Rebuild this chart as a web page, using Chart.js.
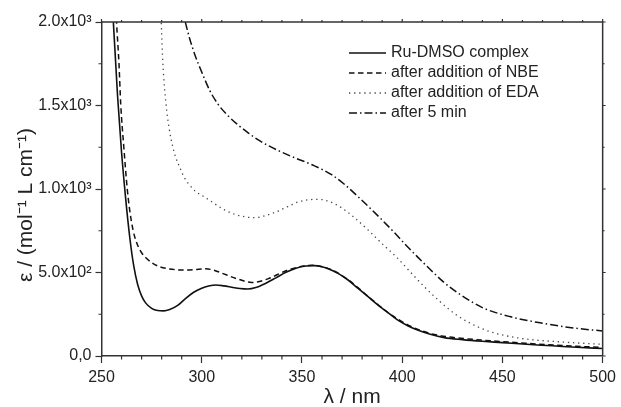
<!DOCTYPE html>
<html>
<head>
<meta charset="utf-8">
<script src="https://cdn.jsdelivr.net/npm/chart.js@4"></script>
<style>
  html, body { margin: 0; padding: 0; background: #fff; }
</style>
</head>
<body>
<canvas id="uvvis" width="621" height="407"></canvas>
<script>
// UV-vis spectra (lambda in nm, epsilon in mol-1 L cm-1)
const seriesNames = ['Ru-DMSO complex', 'after addition of NBE', 'after addition of EDA', 'after 5 min'];

const lambdaRu = [254, 256, 258, 260, 262, 264, 266, 268, 270, 272, 275, 278, 281, 284, 288, 292, 296, 300, 304, 307, 311, 315, 319, 323, 327, 332, 337, 342, 347, 352, 356, 360, 364, 368, 373, 378, 383, 388, 393, 398, 403, 408, 414, 421, 430, 440, 450, 462, 475, 487, 500];
const epsRu    = [2500, 1980, 1560, 1220, 950, 720, 545, 430, 360, 318, 285, 272, 270, 278, 303, 345, 382, 406, 421, 425, 420, 412, 404, 401, 410, 436, 468, 501, 526, 539, 541, 535, 518, 495, 455, 405, 355, 305, 258, 213, 180, 154, 130, 110, 98, 88, 80, 70, 61, 52, 45];

const lambdaNbe = [256, 257.5, 258.7, 259.6, 261.1, 262.8, 264, 265.7, 267.5, 269.5, 272, 275, 278.5, 284, 290.5, 296, 302, 306, 310, 318.5, 325, 333, 343, 355, 364, 373, 383, 393, 403, 414, 425, 440, 462, 487, 500];
const epsNbe    = [2400, 2000, 1756, 1506, 1256, 1006, 880, 756, 680, 628, 590, 560, 537, 521, 515, 517, 522, 514, 496, 459, 440, 462, 515, 543, 520, 457, 357, 260, 185, 135, 112, 95, 76, 58, 52];

const lambdaEda = [279, 279.8, 280.6, 282.2, 283.8, 285.5, 287, 288.8, 291, 293.8, 297, 301.2, 304.5, 310, 315, 320, 326, 331, 337, 343, 348, 353, 358, 363, 369, 375, 383, 390, 397, 404, 411, 418, 426, 434, 444, 459, 477, 500];
const epsEda    = [2300, 2000, 1756, 1506, 1360, 1256, 1190, 1136, 1075, 1026, 985, 953, 928, 884, 855, 837, 828, 838, 862, 895, 922, 935, 938, 928, 893, 840, 754, 672, 594, 504, 415, 335, 255, 196, 145, 106, 86, 70];

const lambda5min = [290, 291.8, 294, 296.7, 300, 304, 308, 313, 318, 323, 328, 334, 340, 347, 356, 365, 371, 378, 384, 390, 396, 401, 407.5, 414, 420.7, 429, 440, 453.7, 470, 486.6, 500];
const eps5min    = [2090, 2000, 1900, 1800, 1700, 1590, 1510, 1440, 1385, 1338, 1295, 1255, 1220, 1184, 1140, 1084, 1030, 954, 885, 814, 740, 675, 595, 518, 442, 368, 290, 236, 196, 166, 150];

const xTicks = [250, 300, 350, 400, 450, 500];
const yTicks = [0, 500, 1000, 1500, 2000];
const yTickLabels = ['0,0', '5.0x10²', '1.0x10³', '1.5x10³', '2.0x10³'];

const toPoints = (xs, ys) => xs.map((x, i) => ({ x: x, y: ys[i] }));

const axisColor = '#333';
const fontFamily = '"Liberation Sans", Arial, sans-serif';

// frame, minor ticks, y title and the in-plot legend
const extras = {
  id: 'extras',
  afterDraw(chart) {
    const ctx = chart.ctx;
    const { left, right, top, bottom } = chart.chartArea;
    const xs = chart.scales.x, ys = chart.scales.y;
    ctx.save();
    ctx.strokeStyle = axisColor;
    ctx.lineWidth = 1.5;
    ctx.beginPath();
    ctx.moveTo(left, top); ctx.lineTo(right, top); ctx.lineTo(right, bottom);
    ctx.stroke();

    ctx.lineWidth = 1.2;
    ctx.beginPath();
    for (let v = 250; v <= 500; v += 10) {
      const px = xs.getPixelForValue(v);
      const major = v % 50 === 0;
      if (!major) { ctx.moveTo(px, bottom); ctx.lineTo(px, bottom + 3.5); }
      ctx.moveTo(px, top); ctx.lineTo(px, top - (major ? 3 : 2));
    }
    for (let v = 0; v <= 2000; v += 250) {
      const py = ys.getPixelForValue(v);
      const major = v % 500 === 0;
      if (!major) { ctx.moveTo(left, py); ctx.lineTo(left - 3, py); }
      ctx.moveTo(right, py); ctx.lineTo(right + (major ? 3 : 2), py);
    }
    ctx.stroke();

    // y axis title
    ctx.fillStyle = '#222';
    ctx.font = '21px ' + fontFamily;
    ctx.textAlign = 'center';
    ctx.textBaseline = 'middle';
    ctx.translate(26, 205);
    ctx.rotate(-Math.PI / 2);
    ctx.fillText('ε / (mol⁻¹ L cm⁻¹)', 0, 0);
    ctx.restore();

    // legend
    ctx.save();
    ctx.font = '16px ' + fontFamily;
    ctx.textBaseline = 'middle';
    ctx.textAlign = 'left';
    chart.data.datasets.forEach((ds, i) => {
      const y = 53 + i * 20;
      ctx.strokeStyle = ds.borderColor;
      ctx.lineWidth = ds.borderWidth;
      ctx.setLineDash(ds.borderDash || []);
      ctx.beginPath();
      ctx.moveTo(349, y); ctx.lineTo(386, y);
      ctx.stroke();
      ctx.fillStyle = '#222';
      ctx.fillText(ds.label, 391, y);
    });
    ctx.restore();
  }
};

new Chart(document.getElementById('uvvis'), {
  type: 'line',
  data: {
    datasets: [
      { label: seriesNames[0], data: toPoints(lambdaRu, epsRu), borderColor: '#111', borderWidth: 1.6, borderDash: [] },
      { label: seriesNames[1], data: toPoints(lambdaNbe, epsNbe), borderColor: '#111', borderWidth: 1.5, borderDash: [5.5, 3.5] },
      { label: seriesNames[2], data: toPoints(lambdaEda, epsEda), borderColor: '#444', borderWidth: 1.3, borderDash: [1.3, 3.8] },
      { label: seriesNames[3], data: toPoints(lambda5min, eps5min), borderColor: '#111', borderWidth: 1.5, borderDash: [8, 3, 1.5, 3] }
    ]
  },
  options: {
    responsive: false,
    animation: false,
    devicePixelRatio: 1,
    layout: { padding: { top: 22, right: 14, left: 0, bottom: 0 } },
    elements: {
      point: { radius: 0 },
      line: { cubicInterpolationMode: 'monotone', fill: false }
    },
    plugins: { legend: { display: false }, tooltip: { enabled: false } },
    scales: {
      x: {
        type: 'linear',
        min: 250, max: 500,
        afterFit(scale) { scale.height = 51; },
        afterBuildTicks(scale) { scale.ticks = xTicks.map(v => ({ value: v })); },
        ticks: { color: '#222', font: { family: fontFamily, size: 16 }, padding: 5, maxRotation: 0 },
        grid: { display: true, drawOnChartArea: false, drawTicks: true, tickLength: 7, tickColor: axisColor, tickWidth: 1.2 },
        border: { display: true, color: axisColor, width: 1.5 },
        title: { display: true, text: 'λ / nm', color: '#222', font: { family: fontFamily, size: 21 }, padding: { top: 0, bottom: -3 } }
      },
      y: {
        type: 'linear',
        min: 0, max: 2000,
        afterFit(scale) { scale.width = 101.5; },
        afterBuildTicks(scale) { scale.ticks = yTicks.map(v => ({ value: v })); },
        ticks: {
          color: '#222', font: { family: fontFamily, size: 16 }, padding: 4,
          callback: (v) => yTickLabels[yTicks.indexOf(v)]
        },
        grid: { display: true, drawOnChartArea: false, drawTicks: true, tickLength: 6, tickColor: axisColor, tickWidth: 1.2 },
        border: { display: true, color: axisColor, width: 1.5 }
      }
    }
  },
  plugins: [extras]
});
</script>
</body>
</html>
